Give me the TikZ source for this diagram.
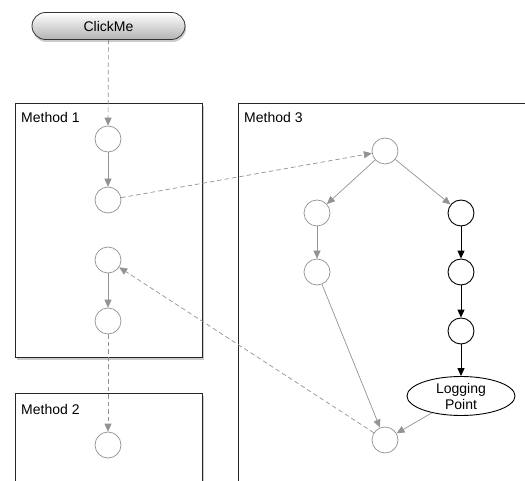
\documentclass[tikz,border=0pt]{standalone}
\usepackage{fontspec}
\setmainfont{Liberation Sans}
\usetikzlibrary{arrows.meta,shadows,shapes.geometric,shapes.misc}
\begin{document}
\begin{tikzpicture}[x=1pt,y=-1pt,
  circ/.style={circle,draw=gray!85,line width=0.7pt,minimum size=26pt,inner sep=0pt,fill=white},
  bcirc/.style={circle,draw=black,line width=0.9pt,minimum size=26pt,inner sep=0pt,fill=white},
  methodbox/.style={draw=black!85,line width=0.8pt,fill=white,drop shadow={shadow xshift=1.5pt,shadow yshift=-3pt,opacity=0.5,fill=gray!80}},
  garr/.style={draw=gray!85,line width=0.7pt,-{Triangle[length=8pt,width=7pt,fill=gray!85]}},
  barr/.style={draw=black,line width=1pt,-{Triangle[length=8pt,width=7pt]}},
  darr/.style={draw=gray!85,line width=0.7pt,dash pattern=on 4.5pt off 3pt,-{Triangle[length=8pt,width=7pt,fill=gray!85]}},
  txt/.style={font=\fontsize{14}{15.5}\selectfont},
  lbl/.style={txt,anchor=base west,inner sep=0pt}
]
\useasboundingbox (0,0) rectangle (525,481);
\clip (0,0) rectangle (525,481);
\fill[white] (0,0) rectangle (525,481);
% boxes
\path[methodbox] (15,103) rectangle (202,357);
\path[methodbox] (15,393) rectangle (202,500);
\path[methodbox] (238,103) rectangle (540,500);
\node[lbl] (l1) at (21,123) {Method 1};
\node[lbl] (l2) at (21,414) {Method 2};
\node[lbl] (l3) at (244,123) {Method 3};
% ClickMe
\node[rounded rectangle,draw=black!80,line width=0.8pt,minimum width=153pt,minimum height=27pt,inner sep=0pt,
  top color=white,bottom color=gray!60,drop shadow={shadow xshift=1pt,shadow yshift=-2.5pt,opacity=0.5,fill=gray!80},
  txt] (click) at (108.5,26) {ClickMe};
% Method 1 nodes
\node[circ] (a1) at (108,139) {};
\node[circ] (a2) at (108,200) {};
\node[circ] (a3) at (108,260) {};
\node[circ] (a4) at (108,321) {};
% Method 2
\node[circ] (b1) at (108,445) {};
% Method 3
\node[circ] (t) at (385,151) {};
\node[circ] (l1c) at (317,213) {};
\node[circ] (l2c) at (317,272) {};
\node[bcirc] (r1) at (461,213) {};
\node[bcirc] (r2) at (461,272) {};
\node[bcirc] (r3) at (461,331) {};
\node[ellipse,draw=black,line width=0.9pt,minimum width=108pt,minimum height=39pt,inner sep=0pt,fill=white,
  align=center,txt,font=\fontsize{14}{16}\selectfont] (lp) at (461,396) {Logging\\Point};
\node[circ] (bt) at (385,440) {};
% edges
\path[darr] (click) -- (a1);
\path[garr] (a1) -- (a2);
\path[darr] (a2) -- (t);
\path[garr] (a3) -- (a4);
\path[darr] (a4) -- (b1);
\path[darr] (bt) -- (a3);
\path[garr] (t) -- (l1c);
\path[garr] (t) -- (r1);
\path[garr] (l1c) -- (l2c);
\path[garr] (l2c) -- (bt);
\path[barr] (r1) -- (r2);
\path[barr] (r2) -- (r3);
\path[barr] (r3) -- (lp);
\path[garr] (lp) -- (bt);
\end{tikzpicture}
\end{document}
